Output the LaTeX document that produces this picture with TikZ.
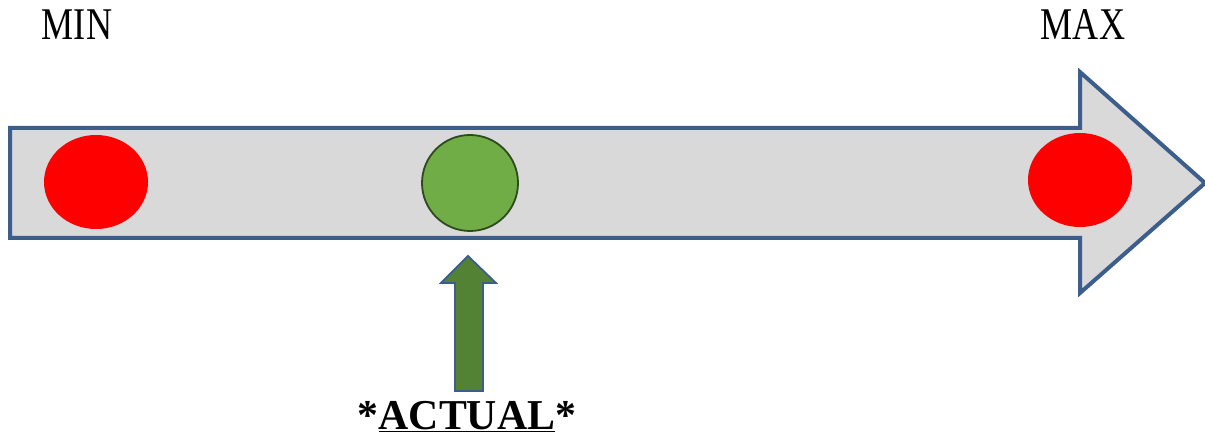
\documentclass[tikz,border=0pt]{standalone}
\usepackage{fontspec}
\setmainfont{Liberation Serif}
\definecolor{arrowblue}{HTML}{3B5E8C}
\definecolor{shaftgray}{HTML}{D9D9D9}
\definecolor{dotred}{HTML}{FF0000}
\definecolor{dotgreen}{HTML}{70AD47}
\definecolor{dotgreenedge}{HTML}{2E4A1E}
\definecolor{upgreen}{HTML}{548235}
\tikzset{
  reddot/.style={ellipse, fill=dotred, minimum width=104pt, minimum height=94pt, inner sep=0pt},
  greendot/.style={circle, fill=dotgreen, draw=dotgreenedge, line width=1.8pt, minimum size=96pt, inner sep=0pt},
  label/.style={inner sep=0pt, font=\fontsize{42}{44}\selectfont},
}
\usetikzlibrary{shapes.geometric}
\begin{document}
\begin{tikzpicture}[x=1pt,y=-1pt]
\useasboundingbox (0,0) rectangle (1205,438);
% big arrow
\draw[arrowblue, fill=shaftgray, line width=4pt, line join=miter]
  (10,128) -- (1080,128) -- (1080,72) -- (1205,183) -- (1080,293) -- (1080,238) -- (10,238) -- cycle;
\node[reddot] (minDot) at (96,182) {};
\node[reddot] (maxDot) at (1080,180) {};
\node[greendot] (actDot) at (470,183) {};
% small up arrow
\draw[arrowblue, fill=upgreen, line width=1.8pt, line join=miter]
  (455,391) -- (455,283) -- (441,283) -- (468,256) -- (496,283) -- (483,283) -- (483,391) -- cycle;
% labels
\node[label, anchor=base] (minLbl) at (77,40) {\scalebox{0.86}[1.08]{MIN}};
\node[label, anchor=base] (maxLbl) at (1083,40) {\scalebox{0.86}[1.08]{MAX}};
\node[inner sep=0pt, anchor=base, font=\fontsize{38}{40}\selectfont\bfseries] (actLbl) at (467,429)
  {\scalebox{1.1}[1.12]{*\underline{ACTUAL}*}};
\end{tikzpicture}
\end{document}
